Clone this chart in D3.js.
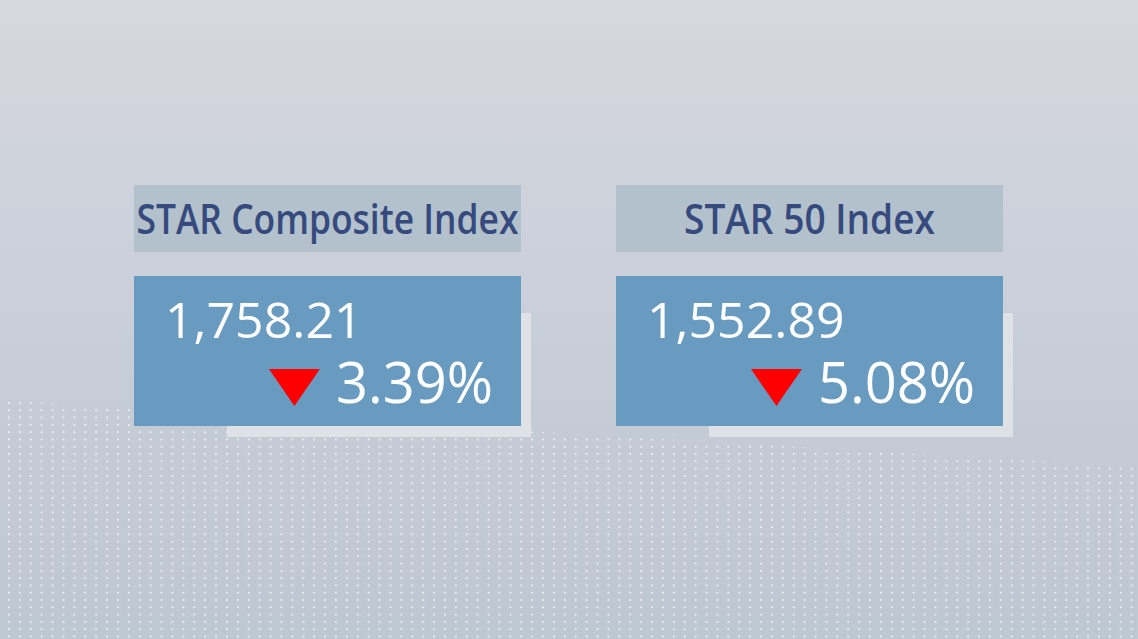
<!DOCTYPE html>
<html>
<head>
<meta charset="utf-8">
<script src="https://cdn.jsdelivr.net/npm/d3@7"></script>
<style>
  html, body { margin: 0; padding: 0; overflow: hidden; }
  body { width: 1138px; height: 639px; }
</style>
</head>
<body>
<script>
// index board data
var indexNames = ["STAR Composite Index", "STAR 50 Index"];
var closeValues = [1758.21, 1552.89];
var changePct = [-3.39, -5.08];

var w = 1138, h = 639;

var svg = d3.select("body").append("svg")
    .attr("width", w)
    .attr("height", h);

var defs = svg.append("defs");

// background gradient
var bg = defs.append("linearGradient")
    .attr("id", "bg")
    .attr("x1", 0).attr("y1", 0).attr("x2", 0).attr("y2", 1);
bg.append("stop").attr("offset", "0%").attr("stop-color", "#d5d8dd");
bg.append("stop").attr("offset", "35%").attr("stop-color", "#cdd1db");
bg.append("stop").attr("offset", "70%").attr("stop-color", "#c4cbd5");
bg.append("stop").attr("offset", "100%").attr("stop-color", "#bec8d1");

svg.append("rect")
    .attr("width", w)
    .attr("height", h)
    .attr("fill", "url(#bg)");

// dotted texture at the bottom
var dots = defs.append("pattern")
    .attr("id", "dots")
    .attr("patternUnits", "userSpaceOnUse")
    .attr("x", 8).attr("y", 402)
    .attr("width", 10.9)
    .attr("height", 7.3);
dots.append("rect")
    .attr("width", 1.8)
    .attr("height", 1.8)
    .attr("fill", "#ffffff")
    .attr("fill-opacity", 0.7);

var edge = d3.scaleLinear().domain([0, w]).range([400, 467]);
var dotArea = d3.area()
    .x(function(d) { return d; })
    .y0(h)
    .y1(function(d) { return edge(d); });

svg.append("path")
    .datum([0, w])
    .attr("d", dotArea)
    .attr("fill", "url(#dots)");

// panels
var x = d3.scaleBand()
    .domain(indexNames)
    .range([134, 1003])
    .paddingInner(95 / 482)
    .paddingOuter(0);

var fmtValue = d3.format(",.2f");
var fmtPct = function(v) { return d3.format(".2f")(Math.abs(v)) + "%"; };

var panels = svg.selectAll("g.panel")
    .data(indexNames)
    .enter()
    .append("g")
    .attr("class", "panel")
    .attr("transform", function(d) { return "translate(" + x(d) + ",0)"; });

// header box
panels.append("rect")
    .attr("y", 185)
    .attr("width", x.bandwidth())
    .attr("height", 67)
    .attr("fill", "#b3c1cc");

panels.append("text")
    .attr("x", x.bandwidth() / 2)
    .attr("y", 234)
    .attr("text-anchor", "middle")
    .attr("font-family", "'Open Sans', sans-serif")
    .attr("font-size", 42)
    .attr("font-weight", 600)
    .attr("fill", "#364a7e")
    .attr("textLength", function(d, i) { return i === 0 ? 382 : 251; })
    .attr("lengthAdjust", "spacingAndGlyphs")
    .text(function(d) { return d; });

// shadow card behind the value box
panels.append("rect")
    .attr("x", 93)
    .attr("y", 313)
    .attr("width", x.bandwidth() + 10 - 93)
    .attr("height", 124)
    .attr("fill", "#dee1e5");

// value box
panels.append("rect")
    .attr("y", 276)
    .attr("width", x.bandwidth())
    .attr("height", 150)
    .attr("fill", "#699abf");

panels.append("text")
    .attr("x", 31)
    .attr("y", 338)
    .attr("font-family", "'Open Sans', sans-serif")
    .attr("font-size", 50)
    .attr("fill", "#ffffff")
    .text(function(d, i) { return fmtValue(closeValues[i]); });

var pct = panels.append("text")
    .attr("x", 359)
    .attr("y", 403)
    .attr("text-anchor", "end")
    .attr("font-family", "'Open Sans', sans-serif")
    .attr("font-size", 56)
    .attr("fill", "#ffffff")
    .text(function(d, i) { return fmtPct(changePct[i]); });

// down arrow placed just left of the percentage
panels.append("path")
    .attr("d", function(d, i) {
        var tw = pct.nodes()[i].getComputedTextLength();
        var right = 359 - tw - 16;
        var left = right - 51;
        return "M" + left + ",369L" + right + ",369L" + (left + 25.5) + ",406Z";
    })
    .attr("fill", function(d, i) { return changePct[i] < 0 ? "#ff0000" : "#2fa84f"; });
</script>
</body>
</html>
